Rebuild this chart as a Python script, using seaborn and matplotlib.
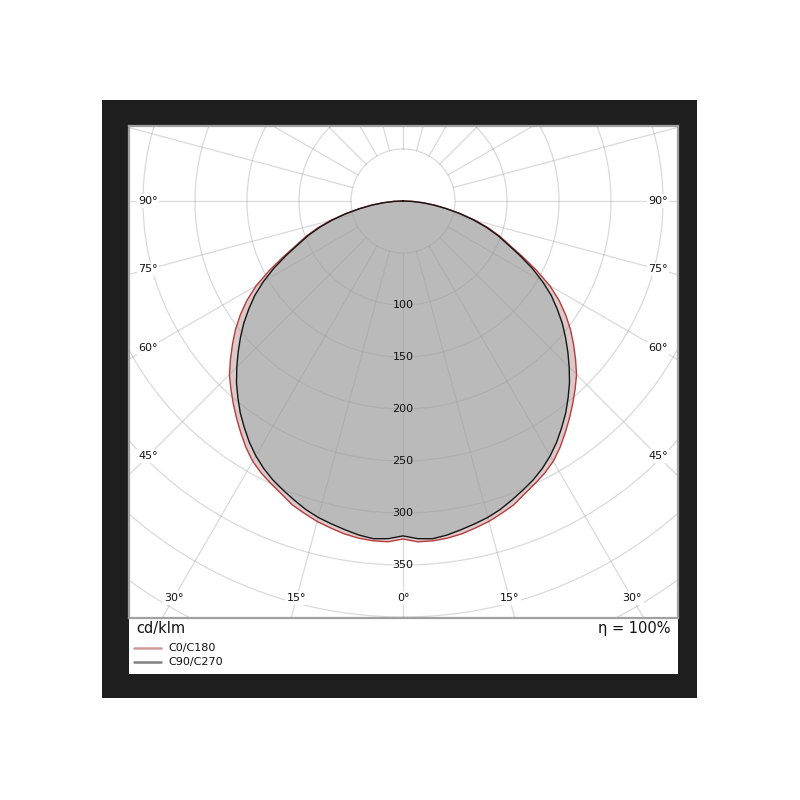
import numpy as np
import pandas as pd
import matplotlib
matplotlib.use("Agg")
import matplotlib.pyplot as plt
from matplotlib.lines import Line2D
from matplotlib.patches import Rectangle
import seaborn as sns

# ---------------- data (cd/klm) ----------------
gamma_deg = [0, 2.5, 5, 7.5, 10, 12.5, 15, 17.5, 20, 22.5, 25, 27.5, 30, 32.5, 35, 37.5,
             40, 42.5, 45, 47.5, 50, 52.5, 55, 57.5, 60, 62.5, 65, 67.5, 70, 72.5, 75,
             77.5, 80, 82.5, 85, 87.5, 90]
c0_c180 = [325, 328, 328, 327, 325, 322, 319, 315, 311, 305, 300, 295, 289, 281, 272, 263,
           254, 245, 236, 225, 214, 203, 191, 178, 163, 145, 127, 111, 99, 86, 72,
           57, 43, 31, 19, 9, 0]
c90_c270 = [322, 325, 326, 324, 321, 318, 315, 311, 306, 301, 296, 290, 283, 275, 266, 257,
            247, 237, 226, 215, 204, 193, 181, 169, 155, 140, 124, 109, 97, 84, 70,
            56, 42, 30, 19, 9, 0]
series_names = ["C0/C180", "C90/C270"]
radial_ticks = [100, 150, 200, 250, 300, 350]
angle_ticks = [0, 15, 30, 45, 60, 75, 90]
eta_text = "η = 100%"
unit_text = "cd/klm"

sns.set_theme(style="white")
plt.rcParams["font.family"] = ["DejaVu Sans"]

W = H = 800
S = 1.04  # px per cd/klm
CX, CY = 403, 201  # polar centre in pixels
BOX = (129, 126, 678, 618)  # plot box l, t, r, b in pixels


def fx(px):
    return px / W


def fy(py):
    return 1 - py / H


fig = plt.figure(figsize=(8, 8), dpi=100)
fig.patch.set_facecolor("white")
fig.add_artist(Rectangle((fx(102), fy(698)), fx(697) - fx(102), fy(100) - fy(698),
                         transform=fig.transFigure, facecolor="#1e1e1e", edgecolor="none", zorder=0))
fig.add_artist(Rectangle((fx(129), fy(674)), fx(678) - fx(129), fy(126) - fy(674),
                         transform=fig.transFigure, facecolor="white", edgecolor="none", zorder=0))

l, t, r, b = BOX
ax = fig.add_axes([fx(l), fy(b), fx(r) - fx(l), fy(t) - fy(b)])
ax.set_facecolor("white")
ax.set_xlim(-(CX - l) / S, (r - CX) / S)
ax.set_ylim(-(b - CY) / S, (CY - t) / S)
ax.set_xticks([])
ax.set_yticks([])
for sp in ax.spines.values():
    sp.set_color("#a0a0a0")
    sp.set_linewidth(1.6)
    sp.set_visible(True)


def full_curve(vals):
    g = np.array(gamma_deg, dtype=float)
    v = np.array(vals, dtype=float)
    th = np.concatenate([-g[::-1], g[1:]])
    rr = np.concatenate([v[::-1], v[1:]])
    t_ = np.radians(th)
    return rr * np.sin(t_), -rr * np.cos(t_)


xr, yr = full_curve(c0_c180)
xb, yb = full_curve(c90_c270)

# fills
ax.fill(xr, yr, color="#dccaca", zorder=1, lw=0)
ax.fill(xb, yb, color="#bababa", zorder=1.1, lw=0)

# grid
phi = np.linspace(0, 2 * np.pi, 400)
for rad in range(50, 550, 50):
    ax.plot(rad * np.sin(phi), rad * np.cos(phi), color="#9e9e9e", alpha=0.38, lw=0.9, zorder=2)
for a in range(0, 360, 15):
    ar = np.radians(a)
    ax.plot([50 * np.sin(ar), 700 * np.sin(ar)], [-50 * np.cos(ar), -700 * np.cos(ar)],
            color="#9e9e9e", alpha=0.38, lw=0.9, zorder=2)

# curves through seaborn
df = pd.DataFrame({
    "x": np.concatenate([xr, xb]),
    "y": np.concatenate([yr, yb]),
    "series": [series_names[0]] * len(xr) + [series_names[1]] * len(xb),
})
sns.lineplot(data=df[df.series == series_names[0]], x="x", y="y", sort=False, estimator=None,
             color="#b83a3a", linewidth=1.0, ax=ax, legend=False, zorder=3)
sns.lineplot(data=df[df.series == series_names[1]], x="x", y="y", sort=False, estimator=None,
             color="#151515", linewidth=1.0, ax=ax, legend=False, zorder=3.1)
ax.set_xlabel("")
ax.set_ylabel("")

# radial labels
for v in radial_ticks:
    ax.text(0, -v, str(v), ha="center", va="center", fontsize=8, color="#111111", zorder=5)

# angle labels
side = 255 / S
bottom = 397 / S
for a in angle_ticks:
    ar = np.radians(a)
    if a >= 45:
        px_, py_ = side, -side / np.tan(ar) if a < 90 else 0.0
    else:
        px_, py_ = bottom * np.tan(ar), -bottom
    lab = f"{a}°"
    for sgn in ([1] if a == 0 else [-1, 1]):
        ax.text(sgn * px_, py_, lab, ha="center", va="center", fontsize=8, color="#111111", zorder=5,
                bbox=dict(boxstyle="square,pad=0.15", fc="white", ec="none"))

# bottom texts / legend
fig.text(fx(136), fy(628), unit_text, ha="left", va="center", fontsize=10.5, color="#111111")
fig.text(fx(671), fy(628), eta_text, ha="right", va="center", fontsize=10.5, color="#111111")
fig.add_artist(Line2D([fx(134), fx(161)], [fy(648), fy(648)], transform=fig.transFigure,
                      color="#d09a9a", lw=1.8))
fig.add_artist(Line2D([fx(134), fx(161)], [fy(662), fy(662)], transform=fig.transFigure,
                      color="#808080", lw=1.8))
fig.text(fx(168), fy(648), series_names[0], ha="left", va="center", fontsize=8, color="#111111")
fig.text(fx(168), fy(662), series_names[1], ha="left", va="center", fontsize=8, color="#111111")

fig.savefig("out.png", dpi=100)
